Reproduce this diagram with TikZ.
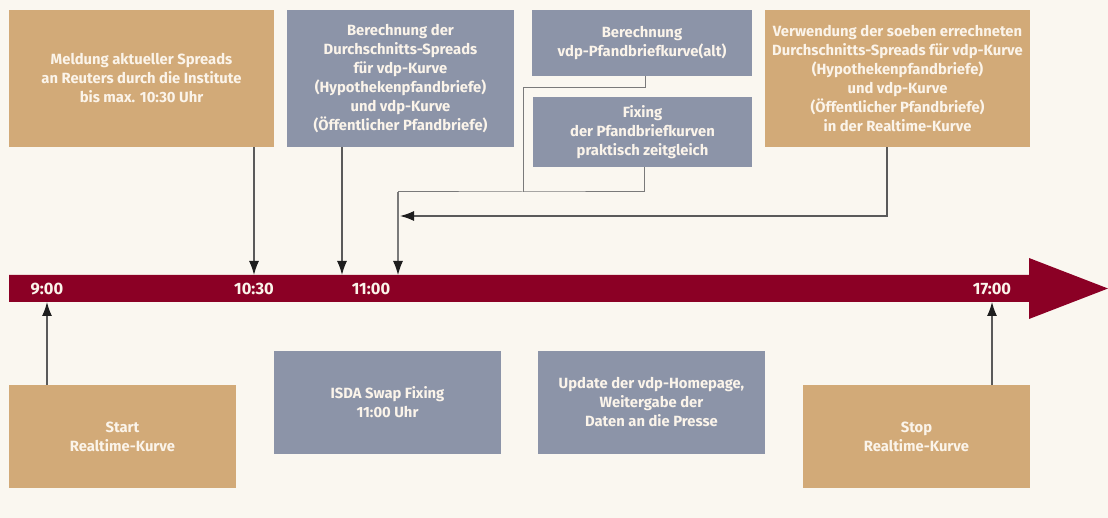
\documentclass[tikz,border=0pt]{standalone}
\usepackage{fontspec}
\setmainfont{Fira Sans}
\usetikzlibrary{arrows.meta}
\definecolor{bgc}{HTML}{FAF7F0}
\definecolor{tanc}{HTML}{D2AA78}
\definecolor{grayc}{HTML}{8C94A8}
\definecolor{barc}{HTML}{8B0025}
\definecolor{txtc}{HTML}{FBF4EA}
\definecolor{linec}{HTML}{5A5A5A}
\definecolor{thinc}{HTML}{7A7A7A}
\definecolor{tipc}{HTML}{1E1E1E}
\tikzset{
  x=1pt, y=-1pt,
  box/.style={rectangle, inner sep=0pt, align=center, text=txtc,
    font=\fontsize{14.8}{19}\selectfont\bfseries},
  tanbox/.style={box, fill=tanc},
  graybox/.style={box, fill=grayc},
  timelbl/.style={text=txtc, font=\fontsize{16.5}{18}\selectfont\bfseries, inner sep=0pt},
  arr/.style={draw=linec, line width=1.3pt, -{Latex[length=14pt,width=10pt,color=tipc]}},
  conn/.style={draw=thinc, line width=1pt}
}
\begin{document}
\begin{tikzpicture}
\fill[bgc] (0,0) rectangle (1108,518);
\useasboundingbox (0,0) rectangle (1108,518);

% timeline bar
\fill[barc] (9,275) -- (1029,275) -- (1029,258) -- (1108,288.5) -- (1029,319) -- (1029,302) -- (9,302) -- cycle;

% named points on the bar
\coordinate (t900) at (47,302);
\coordinate (t1030) at (254,275);
\coordinate (t1100a) at (342,275);
\coordinate (t1100b) at (398,275);
\coordinate (t1700) at (992,302);

% time labels
\node[timelbl] (l900) at (47,289) {9:00};
\node[timelbl] (l1030) at (254,289) {10:30};
\node[timelbl] (l1100) at (371,289) {11:00};
\node[timelbl] (l1700) at (992,289) {17:00};

% top boxes
\node[tanbox, minimum width=265, minimum height=137] (b1) at (141.5,78.5)
  {Meldung aktueller Spreads\\an Reuters durch die Institute\\bis max. 10:30 Uhr};
\node[graybox, minimum width=227, minimum height=137] (b2) at (400.5,78.5)
  {Berechnung der\\Durchschnitts-Spreads\\für vdp-Kurve\\(Hypothekenpfandbriefe)\\und vdp-Kurve\\(Öffentlicher Pfandbriefe)};
\node[graybox, minimum width=220, minimum height=66] (b3) at (642,43)
  {Berechnung\\vdp-Pfandbriefkurve(alt)};
\node[graybox, minimum width=219, minimum height=70] (b4) at (642.5,132)
  {Fixing\\der Pfandbriefkurven\\praktisch zeitgleich};
\node[tanbox, minimum width=265, minimum height=137] (b5) at (897.5,78.5)
  {Verwendung der soeben errechneten\\Durchschnitts-Spreads für vdp-Kurve\\(Hypothekenpfandbriefe)\\und vdp-Kurve\\(Öffentlicher Pfandbriefe)\\in der Realtime-Kurve};

% bottom boxes
\node[tanbox, minimum width=227, minimum height=103] (s1) at (122.5,436.5)
  {Start\\Realtime-Kurve};
\node[graybox, minimum width=227, minimum height=103] (s2) at (387.5,402.5)
  {ISDA Swap Fixing\\11:00 Uhr};
\node[graybox, minimum width=227, minimum height=103] (s3) at (651.5,402.5)
  {Update der vdp-Homepage,\\Weitergabe der\\Daten an die Presse};
\node[tanbox, minimum width=227, minimum height=103] (s4) at (916.5,436.5)
  {Stop\\Realtime-Kurve};

% routing points
\coordinate (j3) at (645,88);
\coordinate (jv) at (523,88);
\coordinate (jm) at (523,192);
\coordinate (jl) at (398,192);
\coordinate (j4) at (644,192);
\coordinate (j5) at (887,216);
\coordinate (j5t) at (400,216);

% connectors
\draw[arr] (b1.south -| t1030) -- (t1030);
\draw[arr] (b2.south -| t1100a) -- (t1100a);
\draw[conn] (b3.south -| j3) -- (j3) -- (jv) -- (jm);
\draw[conn] (b4.south -| j4) -- (j4) -- (jm) -- (jl);
\draw[arr, draw=thinc, line width=1.1pt] (jl) -- (t1100b);
\draw[arr] (b5.south -| j5) -- (j5) -- (j5t);
\draw[arr] (s1.north -| t900) -- (t900);
\draw[arr] (s4.north -| t1700) -- (t1700);
\end{tikzpicture}
\end{document}
